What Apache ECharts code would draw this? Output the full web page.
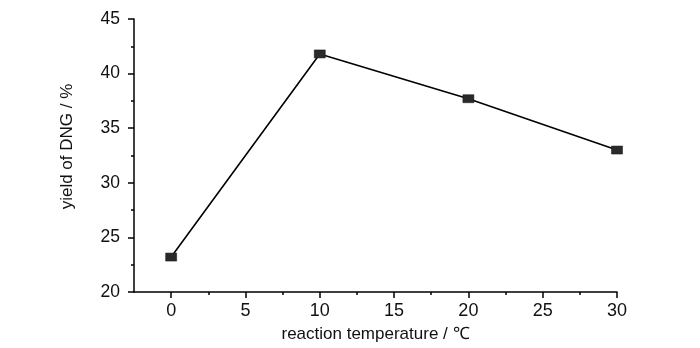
<!DOCTYPE html>
<html>
<head>
<meta charset="utf-8">
<script src="https://cdn.jsdelivr.net/npm/echarts@6/dist/echarts.min.js"></script>
<style>
  html, body { margin: 0; padding: 0; background: #fff; }
  #chart { width: 700px; height: 348px; }
</style>
</head>
<body>
<div id="chart"></div>
<script>
// Reaction temperature (°C) and the DNG yield measured at each temperature
const temperatures = [0, 10, 20, 30];
const yields = [23.2, 41.8, 37.7, 33.0];

// Tick positions on the temperature axis
const xMajorTicks = [0, 5, 10, 15, 20, 25, 30];
const xMinorTicks = [2.5, 7.5, 12.5, 17.5, 22.5, 27.5];

const FONT = '"Liberation Sans", Arial, sans-serif';
const INK = '#111';

const chart = echarts.init(document.getElementById('chart'), null, { renderer: 'canvas' });

const sharedX = {
  type: 'value',
  min: -2.5,
  max: 30,
  position: 'bottom',
  splitLine: { show: false }
};

chart.setOption({
  animation: false,
  backgroundColor: '#fff',
  grid: { left: 134, right: 83, top: 19, bottom: 55, containLabel: false },
  xAxis: [
    Object.assign({}, sharedX, {
      name: 'reaction temperature / ℃',
      nameLocation: 'middle',
      nameGap: 34,
      nameTextStyle: { fontFamily: FONT, fontSize: 17, color: INK },
      axisLine: { show: true, onZero: false, lineStyle: { color: '#000', width: 1.5 } },
      axisTick: { show: true, inside: false, length: 6, customValues: xMajorTicks,
                  lineStyle: { color: '#000', width: 1.5 } },
      axisLabel: { show: true, customValues: xMajorTicks, margin: 10,
                   fontFamily: FONT, fontSize: 18, color: INK }
    }),
    Object.assign({}, sharedX, {
      axisLine: { show: false },
      axisTick: { show: true, inside: false, length: 3, customValues: xMinorTicks,
                  lineStyle: { color: '#000', width: 1.5 } },
      axisLabel: { show: false }
    })
  ],
  yAxis: {
    type: 'value',
    min: 20,
    max: 45,
    interval: 5,
    name: 'yield of DNG / %',
    nameLocation: 'middle',
    nameGap: 58,
    // extra left padding nudges the rotated title slightly upward
    nameTextStyle: { fontFamily: FONT, fontSize: 17, color: INK, padding: [0, 0, 0, 18] },
    axisLine: { show: true, onZero: false, lineStyle: { color: '#000', width: 1.5 } },
    axisTick: { show: true, inside: false, length: 6, lineStyle: { color: '#000', width: 1.5 } },
    minorTick: { show: true, splitNumber: 2, length: 3, lineStyle: { color: '#000', width: 1.5 } },
    axisLabel: { margin: 14, fontFamily: FONT, fontSize: 17.5, color: INK },
    splitLine: { show: false }
  },
  series: [{
    type: 'line',
    xAxisIndex: 0,
    data: temperatures.map((t, i) => [t, yields[i]]),
    symbol: 'rect',
    symbolSize: [11, 8],
    itemStyle: { color: '#2a2a2a', borderColor: '#111', borderWidth: 0.5 },
    lineStyle: { color: '#000', width: 1.6 }
  }]
});
</script>
</body>
</html>
